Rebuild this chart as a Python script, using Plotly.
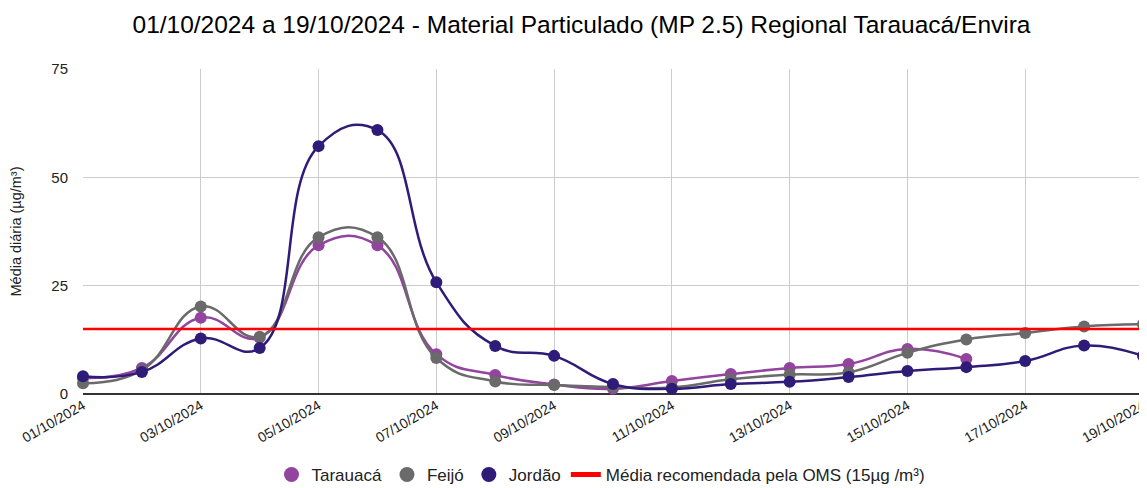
import plotly.graph_objects as go

dates = ["01/10/2024", "02/10/2024", "03/10/2024", "04/10/2024", "05/10/2024",
         "06/10/2024", "07/10/2024", "08/10/2024", "09/10/2024", "10/10/2024",
         "11/10/2024", "12/10/2024", "13/10/2024", "14/10/2024", "15/10/2024",
         "16/10/2024", "17/10/2024", "18/10/2024", "19/10/2024"]
tarauaca = [3.7, 6.0, 17.6, 13.0, 34.3, 34.3, 9.2, 4.4, 2.2, 1.2,
            3.0, 4.6, 6.0, 6.9, 10.4, 8.1, None, None, None]
feijo = [2.5, 5.5, 20.2, 13.2, 36.2, 36.2, 8.3, 2.9, 2.1, 1.6,
         1.5, 3.4, 4.5, 5.0, 9.5, 12.6, 14.1, 15.6, 16.1]
jordao = [4.1, 5.1, 12.8, 10.6, 57.2, 60.9, 25.8, 11.1, 8.8, 2.3,
          1.2, 2.3, 2.8, 3.9, 5.3, 6.2, 7.6, 11.2, 8.8]
oms = [15] * len(dates)
tick_labels = dates[::2]

fig = go.Figure()
series = [("Tarauacá", tarauaca, "#92449e"),
          ("Feijó", feijo, "#6a6a6a"),
          ("Jordão", jordao, "#2f1b78")]
for name, vals, col in series:
    fig.add_trace(go.Scatter(
        x=dates, y=vals, name=name, mode="lines+markers", showlegend=False,
        line=dict(color=col, width=2.5, shape="spline", smoothing=1.3),
        marker=dict(color=col, size=12), cliponaxis=False,
        connectgaps=False))
fig.add_trace(go.Scatter(
    x=dates, y=oms, name="Média recomendada pela OMS (15µg /m³)",
    mode="lines", line=dict(color="#ff0000", width=2.5), showlegend=False))
# legend entries (circle only, as in the reference)
for name, vals, col in series:
    fig.add_trace(go.Scatter(x=[None], y=[None], name=name, mode="markers",
                             marker=dict(color=col, size=15)))
fig.add_trace(go.Scatter(x=[None], y=[None], name="Média recomendada pela OMS (15µg /m³)",
                         mode="lines", line=dict(color="#ff0000", width=5)))

fig.update_layout(
    width=1147, height=488,
    paper_bgcolor="white", plot_bgcolor="white",
    font=dict(family="Liberation Sans, Arial, sans-serif", color="#222222", size=13),
    title=dict(text="01/10/2024 a 19/10/2024 - Material Particulado (MP 2.5) Regional Tarauacá/Envira",
               x=0.5, xanchor="center", xref="container", y=0.966, yanchor="middle",
               font=dict(size=24.5, color="#000000")),
    margin=dict(l=75, r=12, t=61, b=102, autoexpand=False),
    legend=dict(orientation="h", x=0.517, xanchor="center", xref="container",
                yref="container", y=0.043, yanchor="middle",
                font=dict(size=17, color="#222222"), itemwidth=30, tracegroupgap=0),
    xaxis=dict(type="category", range=[0, 18], tickmode="array",
               tickvals=tick_labels, ticktext=tick_labels, tickangle=-30,
               showgrid=True, gridcolor="#cccccc", gridwidth=1, automargin=False,
               ticks="", tickfont=dict(size=14, color="#222222"),
               showline=False, zeroline=False),
    yaxis=dict(range=[0, 75], tickvals=[0, 25, 50, 75], automargin=False,
               showgrid=True, gridcolor="#cccccc", gridwidth=1,
               zeroline=True, zerolinecolor="#333333", zerolinewidth=1.5,
               title=dict(text="Média diária (µg/m³)", font=dict(size=14.5), standoff=30),
               tickfont=dict(size=15, color="#222222"), ticks="", ticklabelstandoff=14),
)

fig.write_html("out.html")
